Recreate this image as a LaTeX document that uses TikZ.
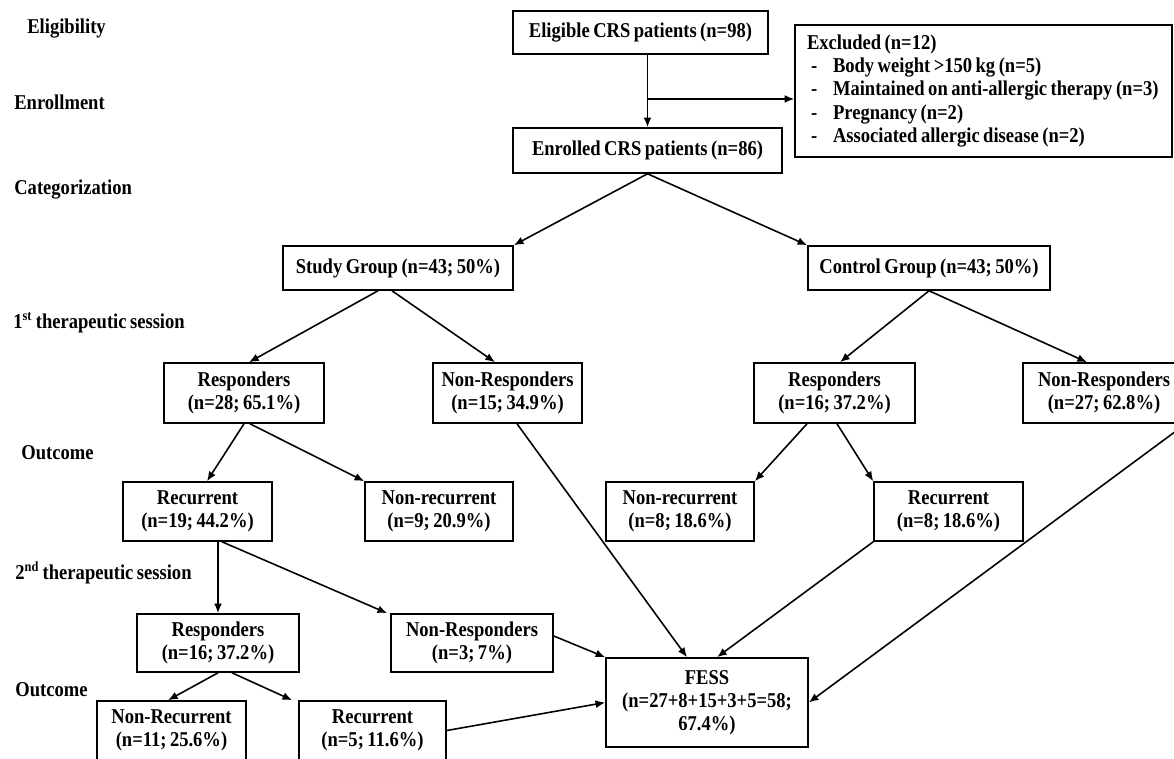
\documentclass[tikz,border=0pt]{standalone}
\usepackage{fontspec}
\setmainfont[FakeStretch=0.88,WordSpace=0.75]{Liberation Serif}
\usetikzlibrary{arrows.meta,calc}

\newcommand{\exdash}{\makebox[0.52cm][l]{\hspace{0.08cm}-}}

\tikzset{
  box/.style={draw, line width=0.9pt, align=center, inner sep=0pt},
  lbl/.style={anchor=west, inner sep=0pt},
  arr/.style={line width=0.9pt, -{Latex[length=5.5pt,width=4.5pt]}},
  every node/.style={font=\bfseries\fontsize{12}{13.2}\selectfont}
}

\begin{document}
\begin{tikzpicture}

\useasboundingbox (0,0) rectangle (23.48,-15.16);

% stage labels
\node[lbl] (l1) at (0.54,-0.58) {Eligibility};
\node[lbl] (l2) at (0.28,-2.04) {Enrollment};
\node[lbl] (l3) at (0.28,-3.80) {Categorization};
\node[lbl] (l4) at (0.26,-6.46) {1\textsuperscript{st} therapeutic session};
\node[lbl] (l5) at (0.42,-9.06) {Outcome};
\node[lbl] (l6) at (0.30,-11.46) {2\textsuperscript{nd} therapeutic session};
\node[lbl] (l7) at (0.30,-13.80) {Outcome};

% boxes
\node[box, minimum width=5.10cm, minimum height=0.86cm] (elig) at (12.81,-0.65) {Eligible CRS patients (n=98)};
\node[box, minimum width=5.38cm, minimum height=0.90cm] (enrol) at (12.95,-3.01) {Enrolled CRS patients (n=86)};
\node[box, minimum width=7.54cm, minimum height=2.64cm, text width=7.06cm, inner xsep=0.24cm, align=left,
      execute at begin node={\spaceskip=0pt\xspaceskip=0pt}] (excl) at (19.67,-1.82)
  {\mbox{Excluded (n=12)}\\
   \mbox{\exdash Body weight >150 kg (n=5)}\\
   \mbox{\exdash Maintained on anti-allergic therapy (n=3)}\\
   \mbox{\exdash Pregnancy (n=2)}\\
   \mbox{\exdash Associated allergic disease (n=2)}};

\node[box, minimum width=4.60cm, minimum height=0.88cm] (study) at (7.96,-5.36) {Study Group (n=43; 50\%)};
\node[box, minimum width=4.84cm, minimum height=0.88cm] (control) at (18.58,-5.36) {Control Group (n=43; 50\%)};

\node[box, minimum width=3.20cm, minimum height=1.20cm] (resp1) at (4.88,-7.86) {Responders\\(n=28; 65.1\%)};
\node[box, minimum width=2.98cm, minimum height=1.20cm] (nonresp1) at (10.15,-7.86) {Non-Responders\\(n=15; 34.9\%)};
\node[box, minimum width=3.22cm, minimum height=1.20cm] (resp2) at (16.69,-7.86) {Responders\\(n=16; 37.2\%)};
\node[box, minimum width=3.24cm, minimum height=1.20cm] (nonresp2) at (22.08,-7.86) {Non-Responders\\(n=27; 62.8\%)};

\node[box, minimum width=2.98cm, minimum height=1.18cm] (rec1) at (3.95,-10.23) {Recurrent\\(n=19; 44.2\%)};
\node[box, minimum width=2.96cm, minimum height=1.18cm] (nonrec1) at (8.78,-10.23) {Non-recurrent\\(n=9; 20.9\%)};
\node[box, minimum width=2.96cm, minimum height=1.18cm] (nonrec2) at (13.60,-10.23) {Non-recurrent\\(n=8; 18.6\%)};
\node[box, minimum width=2.98cm, minimum height=1.18cm] (rec2) at (18.97,-10.23) {Recurrent\\(n=8; 18.6\%)};

\node[box, minimum width=3.24cm, minimum height=1.16cm] (resp3) at (4.36,-12.86) {Responders\\(n=16; 37.2\%)};
\node[box, minimum width=3.24cm, minimum height=1.16cm] (nonresp3) at (9.44,-12.86) {Non-Responders\\(n=3; 7\%)};
\node[box, minimum width=4.04cm, minimum height=1.78cm] (fess) at (14.14,-14.05) {FESS\\(n=27+8+15+3+5=58;\\67.4\%)};

\node[box, minimum width=2.98cm, minimum height=1.18cm] (nonrec3) at (3.43,-14.61) {Non-Recurrent\\(n=11; 25.6\%)};
\node[box, minimum width=2.94cm, minimum height=1.18cm] (rec3) at (7.45,-14.61) {Recurrent\\(n=5; 11.6\%)};

% arrows
\draw[arr] (elig.south -| enrol.north) -- (enrol.north);
\coordinate (split) at ($(elig.south -| enrol.north)!0.61!(enrol.north)$);
\draw[arr] (split) -- (split -| excl.west);

\draw[arr] (enrol.south) -- (study.north east);
\draw[arr] (enrol.south) -- (control.north west);

\draw[arr] ([xshift=-0.40cm]study.south) -- ([xshift=0.10cm]resp1.north);
\draw[arr] ([xshift=-0.12cm]study.south) -- ([xshift=-0.25cm]nonresp1.north);
\draw[arr] (control.south) -- ([xshift=0.11cm]resp2.north);
\draw[arr] (control.south) -- ([xshift=-0.34cm]nonresp2.north);

\draw[arr] (resp1.south) -- ([xshift=0.19cm]rec1.north);
\draw[arr] ([xshift=0.12cm]resp1.south) -- (nonrec1.north west);
\draw[arr] ([xshift=-0.55cm]resp2.south) -- (nonrec2.north east);
\draw[arr] ([xshift=0.05cm]resp2.south) -- (rec2.north west);

\draw[arr] (rec1.south -| resp3.north) -- (resp3.north);
\draw[arr] ([xshift=0.49cm]rec1.south) -- ([xshift=-0.06cm]nonresp3.north west);
\draw[arr] (resp3.south) -- ([xshift=-0.07cm]nonrec3.north);
\draw[arr] ([xshift=0.28cm]resp3.south) -- ([xshift=-0.12cm]rec3.north west);

% to FESS
\draw[arr] ([xshift=0.19cm]nonresp1.south) -- ([xshift=-0.40cm]fess.north);
\draw[arr] (rec2.south west) -- ([xshift=0.20cm]fess.north);
\draw[arr] (nonresp2.south east) -- (fess.east);
\draw[arr] ([yshift=0.14cm]nonresp3.east) -- (fess.north west);
\draw[arr] (rec3.east) -- (fess.west);

\end{tikzpicture}
\end{document}
